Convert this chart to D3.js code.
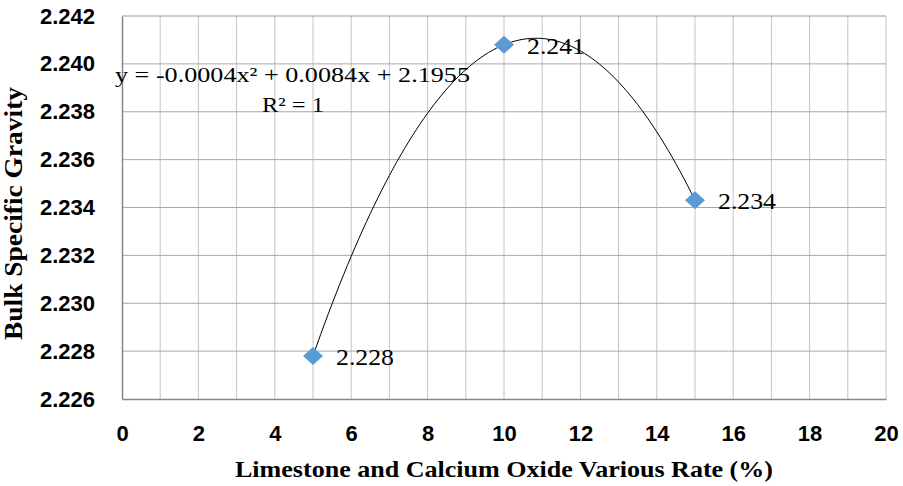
<!DOCTYPE html>
<meta charset="utf-8">
<script src="https://d3js.org/d3.v7.min.js"></script>
<style>
  body { margin: 0; background: #fff; }
  text { fill: #000; }
</style>
<div id="chart"></div>
<script>

// data
var rates = [5, 10, 15];
var gravity = [2.2278, 2.2408, 2.2343];
var pointLabels = ["2.228", "2.241", "2.234"];
var xTicks = [0, 2, 4, 6, 8, 10, 12, 14, 16, 18, 20];
var yTicks = [2.226, 2.228, 2.230, 2.232, 2.234, 2.236, 2.238, 2.240, 2.242];
var eqText = "y = -0.0004x\u00b2 + 0.0084x + 2.1955";
var r2Text = "R\u00b2 = 1";

var W = 903, H = 486;
var margin = {top: 16, right: 17, bottom: 87, left: 122};
var width = W - margin.left - margin.right,
    height = H - margin.top - margin.bottom;

var svg = d3.select("#chart").append("svg")
    .attr("width", W).attr("height", H)
  .append("g")
    .attr("transform", "translate(" + margin.left + "," + margin.top + ")");

var x = d3.scaleLinear().domain([0, 20]).range([0, width]);
var y = d3.scaleLinear().domain([2.226, 2.242]).range([height, 0]);

// grid - vertical every 1 unit, horizontal every tick
svg.append("g").selectAll("line")
  .data(d3.range(1, 21))
  .enter().append("line")
    .attr("x1", d => x(d)).attr("x2", d => x(d))
    .attr("y1", 0).attr("y2", height)
    .attr("stroke", "#c4c4c4").attr("stroke-width", 1);

svg.append("g").selectAll("line")
  .data(yTicks.slice(1))
  .enter().append("line")
    .attr("x1", 0).attr("x2", width)
    .attr("y1", d => y(d)).attr("y2", d => y(d))
    .attr("stroke", d => d === 2.242 ? "#9a9a9a" : "#a8a8a8").attr("stroke-width", 1);

// axes
var xAxis = svg.append("g")
  .attr("transform", "translate(0," + height + ")")
  .call(d3.axisBottom(x).tickValues(xTicks).tickSize(0).tickPadding(26).tickFormat(d3.format("d")));
var yAxis = svg.append("g")
  .call(d3.axisLeft(y).tickValues(yTicks).tickSize(0).tickPadding(27).tickFormat(d3.format(".3f")));

[xAxis, yAxis].forEach(function(a) {
  a.select(".domain").attr("stroke", "#868686").attr("stroke-width", 1.5);
  a.selectAll("text")
    .style("font-family", "'Liberation Sans', Arial, sans-serif")
    .style("font-weight", "bold")
    .style("font-size", "22px")
    .attr("fill", "#000");
});

// trendline: quadratic through the three points
function fitQuad(xs, ys) {
  var x1 = xs[0], x2 = xs[1], x3 = xs[2];
  var y1 = ys[0], y2 = ys[1], y3 = ys[2];
  var d1 = (y2 - y1) / (x2 - x1), d2 = (y3 - y2) / (x3 - x2);
  var a = (d2 - d1) / (x3 - x1);
  var b = d1 - a * (x1 + x2);
  var c = y1 - a * x1 * x1 - b * x1;
  return function(t) { return a * t * t + b * t + c; };
}
var f = fitQuad(rates, gravity);
var curvePts = d3.range(rates[0], rates[2] + 0.001, 0.1).map(function(t) { return [t, f(t)]; });

svg.append("path")
  .datum(curvePts)
  .attr("fill", "none")
  .attr("stroke", "#000")
  .attr("stroke-width", 1)
  .attr("d", d3.line().x(d => x(d[0])).y(d => y(d[1])));

// markers
svg.append("g").selectAll("path")
  .data(rates)
  .enter().append("path")
    .attr("transform", (d, i) => "translate(" + x(d) + "," + y(gravity[i]) + ")")
    .attr("d", "M0,-9L10,0L0,9L-10,0Z")
    .attr("fill", "#5b9bd5");

// data labels
svg.append("g").selectAll("text")
  .data(rates)
  .enter().append("text")
    .attr("x", d => x(d) + 23)
    .attr("y", (d, i) => y(gravity[i]) + 9)
    .attr("textLength", 58)
    .attr("lengthAdjust", "spacingAndGlyphs")
    .style("font-family", "'Liberation Serif', 'Times New Roman', serif")
    .style("font-size", "24px")
    .text((d, i) => pointLabels[i]);

// equation and R2
svg.append("text")
  .attr("x", 115 - margin.left).attr("y", 82 - margin.top)
  .attr("textLength", 355).attr("lengthAdjust", "spacingAndGlyphs")
  .style("font-family", "'Liberation Serif', 'Times New Roman', serif")
  .style("font-size", "22px")
  .text(eqText);
svg.append("text")
  .attr("x", 262 - margin.left).attr("y", 112 - margin.top)
  .attr("textLength", 62).attr("lengthAdjust", "spacingAndGlyphs")
  .style("font-family", "'Liberation Serif', 'Times New Roman', serif")
  .style("font-size", "22px")
  .text(r2Text);

// axis titles
svg.append("text")
  .attr("x", 235 - margin.left).attr("y", 477 - margin.top)
  .attr("textLength", 538).attr("lengthAdjust", "spacingAndGlyphs")
  .style("font-family", "'Liberation Serif', 'Times New Roman', serif")
  .style("font-weight", "bold")
  .style("font-size", "24px")
  .text("Limestone and Calcium Oxide Various Rate (%)");

svg.append("text")
  .attr("transform", "translate(" + (22 - margin.left) + "," + (340 - margin.top) + ") rotate(-90)")
  .attr("textLength", 253).attr("lengthAdjust", "spacingAndGlyphs")
  .style("font-family", "'Liberation Serif', 'Times New Roman', serif")
  .style("font-weight", "bold")
  .style("font-size", "26px")
  .text("Bulk Specific Gravity");

</script>
